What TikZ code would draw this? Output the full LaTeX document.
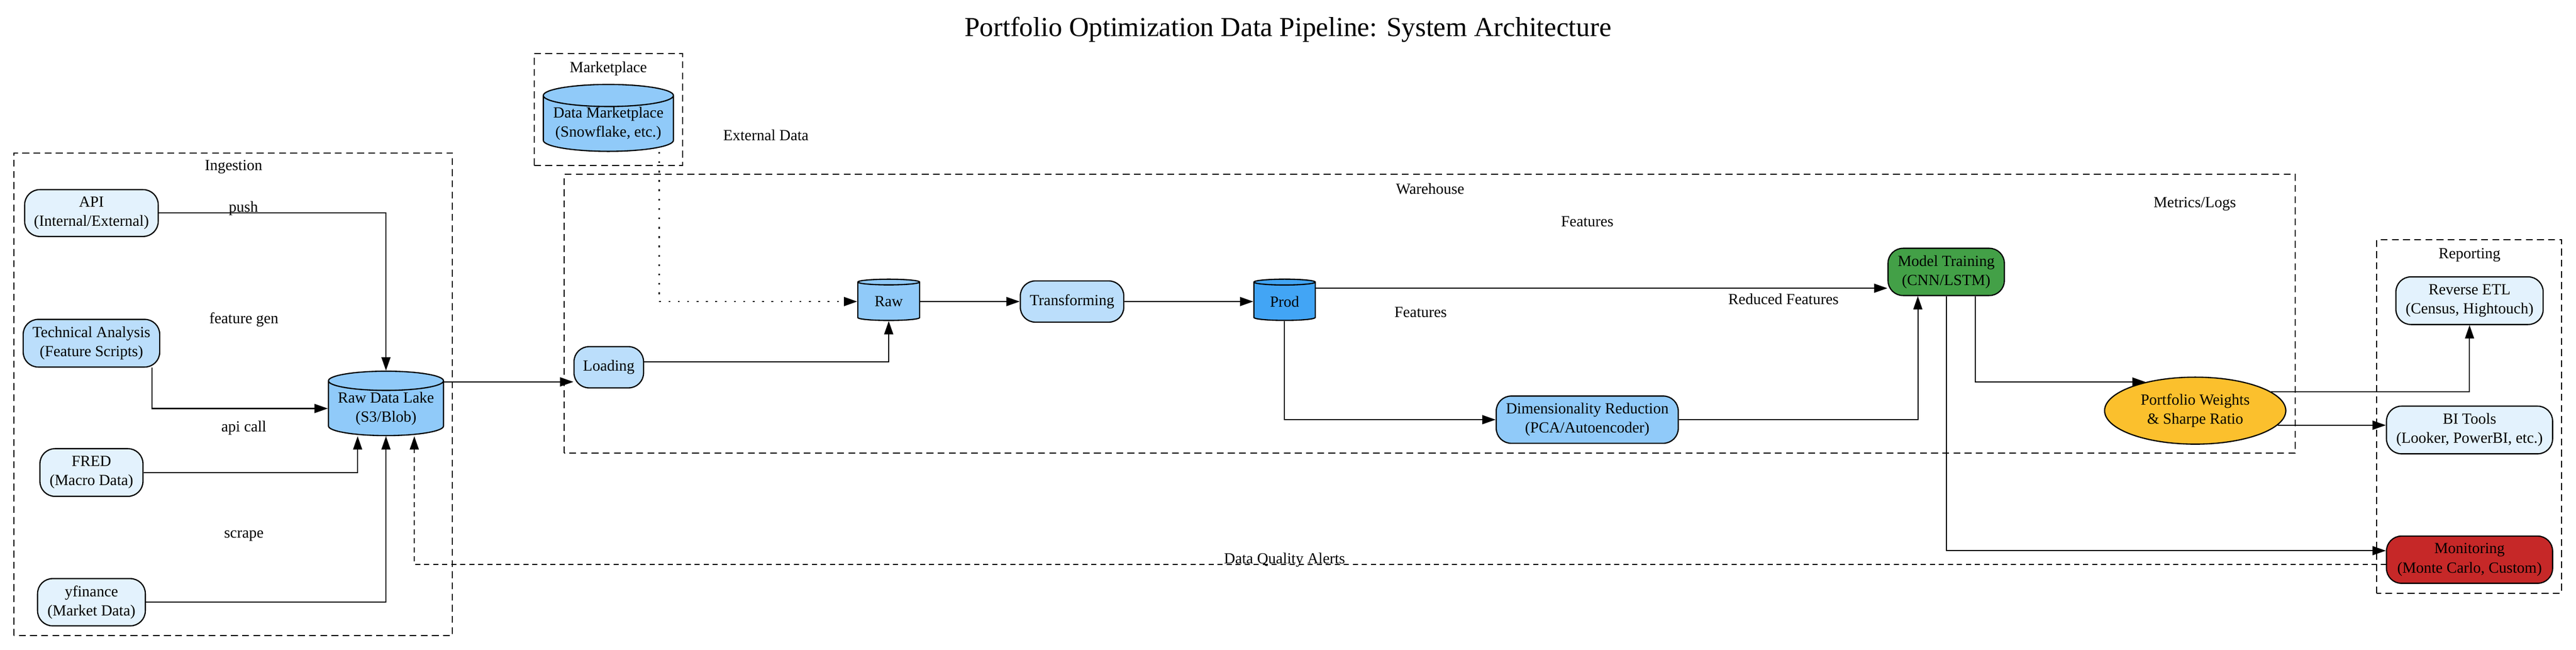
\documentclass[tikz,border=0pt]{standalone}
\usepackage{fontspec}
\setmainfont{Liberation Serif}
\usetikzlibrary{shapes.geometric,arrows.meta}

\definecolor{palebox}{HTML}{E3F2FD}
\definecolor{lightbox}{HTML}{BBDEFB}
\definecolor{midbox}{HTML}{90CAF9}
\definecolor{prodbox}{HTML}{42A5F5}
\definecolor{trainbox}{HTML}{43A047}
\definecolor{weightbox}{HTML}{FBC02D}
\definecolor{alertbox}{HTML}{C62828}

\tikzset{
	every node/.style={font=\fontsize{10.24}{12.7}\selectfont},
	procbox/.style={rectangle,rounded corners=3.5mm,draw=black,line width=0.8pt,align=center,inner sep=0pt},
	store/.style={cylinder,shape border rotate=90,aspect=0.2,draw=black,line width=0.8pt,align=center,inner sep=0pt},
	group/.style={draw=black,line width=0.7pt,dash pattern=on 1.6mm off 1mm},
	flow/.style={line width=0.7pt,-{Triangle[length=3.1mm,width=2.1mm]}},
}

\begin{document}
\begin{tikzpicture}
		\useasboundingbox (0,0) rectangle (60,15.12);

		\node[font=\fontsize{18.2}{22}\selectfont] (title) at (30,14.43) {Portfolio Optimization Data Pipeline: System Architecture};

		\draw[group] (0.32,0.32) rectangle (10.54,11.56);
		\draw[group] (12.44,11.27) rectangle (15.90,13.87);
		\draw[group] (13.14,4.57) rectangle (53.46,11.06);
		\draw[group] (55.36,1.31) rectangle (59.66,9.54);

		\node (ingestlbl) at (5.44,11.23) {Ingestion};
		\node (marketlbl) at (14.17,13.52) {Marketplace};
		\node (warelbl) at (33.31,10.72) {Warehouse};
		\node (reportlbl) at (57.52,9.18) {Reporting};

		\node[procbox,fill=palebox,minimum width=3.11cm,minimum height=1.09cm] (api) at (2.13,10.16) {API\\(Internal/External)};
		\node[procbox,fill=lightbox,minimum width=3.18cm,minimum height=1.11cm] (ta) at (2.13,7.13) {Technical Analysis\\(Feature Scripts)};
		\node[procbox,fill=palebox,minimum width=2.40cm,minimum height=1.11cm] (fred) at (2.13,4.12) {FRED\\(Macro Data)};
		\node[procbox,fill=palebox,minimum width=2.51cm,minimum height=1.10cm] (yfin) at (2.13,1.10) {yfinance\\(Market Data)};
		\node[store,fill=midbox,minimum width=2.68cm,minimum height=1.50cm] (lake) at (8.99,5.61) {Raw Data Lake\\(S3/Blob)};

		\node[store,fill=midbox,minimum width=3.03cm,minimum height=1.50cm] (market) at (14.17,12.24) {Data Marketplace\\(Snowflake, etc.)};

		\node[procbox,fill=lightbox,minimum width=1.62cm,minimum height=0.96cm] (loading) at (14.18,6.57) {Loading};
		\node[store,fill=midbox,minimum width=1.44cm,minimum height=0.96cm] (raw) at (20.70,8.10) {Raw};
		\node[procbox,fill=lightbox,minimum width=2.41cm,minimum height=0.96cm] (trans) at (24.97,8.10) {Transforming};
		\node[store,fill=prodbox,minimum width=1.43cm,minimum height=0.96cm] (prod) at (29.92,8.10) {Prod};
		\node[procbox,fill=midbox,minimum width=4.24cm,minimum height=1.10cm] (dr) at (36.97,5.35) {Dimensionality Reduction\\(PCA/Autoencoder)};
		\node[procbox,fill=trainbox,minimum width=2.71cm,minimum height=1.10cm] (mt) at (45.33,8.79) {Model Training\\(CNN/LSTM)};
		\node[ellipse,draw=black,line width=0.8pt,fill=weightbox,align=center,inner sep=0pt,minimum width=4.22cm,minimum height=1.56cm] (pw) at (51.13,5.56) {Portfolio Weights\\\& Sharpe Ratio};

		\node[procbox,fill=palebox,minimum width=3.43cm,minimum height=1.11cm] (retl) at (57.52,8.12) {Reverse ETL\\(Census, Hightouch)};
		\node[procbox,fill=palebox,minimum width=3.87cm,minimum height=1.11cm] (bi) at (57.52,5.11) {BI Tools\\(Looker, PowerBI, etc.)};
		\node[procbox,fill=alertbox,minimum width=3.87cm,minimum height=1.10cm] (mon) at (57.52,2.09) {Monitoring\\(Monte Carlo, Custom)};

		\draw[flow] (api.east) -| (lake.north);
		\draw[flow] (3.54,0 |- ta.south) |- (lake.west);
		\draw[flow] (fred.east) -| (8.33,0 |- lake.south);
		\draw[flow] (yfin.east) -| (lake.south);
		\draw[flow] (lake.east |- 0,6.23) -- (loading.west |- 0,6.23);
		\draw[flow,line width=1pt,dash pattern=on 1.2pt off 5pt] (15.35,0 |- market.south) |- (raw.west);
		\draw[flow] (loading.east |- 0,6.70) -| (raw.south);
		\draw[flow] (raw) -- (trans);
		\draw[flow] (trans) -- (prod);
		\draw[flow] (prod.east |- 0,8.41) -- (mt.west |- 0,8.41);
		\draw[flow] (prod.south) |- (dr.west);
		\draw[flow] (dr.east) -| (44.67,0 |- mt.south);
		\draw[flow] (46.01,0 |- mt.south) |- (pw.150);
		\draw[flow] (mt.south) |- (mon.west |- 0,2.30);
		\draw[flow] (pw.14) -| (retl.south);
		\draw[flow] (pw.-10) -- (bi.west |- pw.-10);
		\draw[flow,dash pattern=on 1.2mm off 0.9mm] (mon.west |- 0,1.98) -| (9.65,0 |- lake.south);

		\node (pushlbl) at (5.67,10.27) {push};
		\node (genlbl) at (5.68,7.68) {feature gen};
		\node (apilbl) at (5.68,5.16) {api call};
		\node (scrapelbl) at (5.68,2.65) {scrape};
		\node (extlbl) at (17.84,11.97) {External Data};
		\node (featlbl) at (36.97,9.96) {Features};
		\node (feat2lbl) at (33.09,7.85) {Features};
		\node (redlbl) at (41.54,8.16) {Reduced Features};
		\node (logslbl) at (51.12,10.37) {Metrics/Logs};
		\node (alertlbl) at (29.92,2.08) {Data Quality Alerts};
	\end{tikzpicture}
\end{document}
